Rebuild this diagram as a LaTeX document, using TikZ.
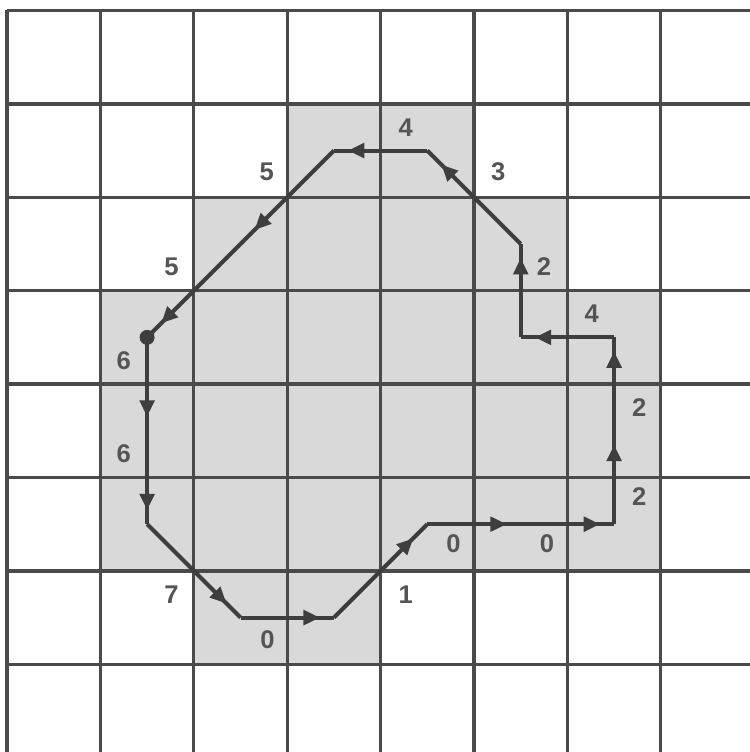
\documentclass[tikz,border=0pt]{standalone}
\usepackage{fontspec}
\setmainfont{Liberation Sans}
\usetikzlibrary{arrows.meta,decorations.markings}
\definecolor{gridgray}{HTML}{4A4A4A}
\definecolor{pathgray}{HTML}{3E3E3E}
\definecolor{codegray}{HTML}{555555}
\definecolor{shadegray}{HTML}{D9D9D9}
\begin{document}
\begin{tikzpicture}[x=1cm,y=1cm,
  gridline/.style={gridgray, line width=1pt},
  chainseg/.style={pathgray, line width=1.25pt, postaction={decorate},
    decoration={markings, mark=at position 0.85 with {\arrow{Triangle[length=5pt,width=4.4pt]}}}},
  code/.style={codegray, font=\fontsize{7.8}{9}\selectfont\bfseries, inner sep=0pt}]
\useasboundingbox (-0.075,0.061) rectangle (7.944,8.112);
\fill[shadegray] (3,7) -- (5,7) -- (5,6) -- (6,6) -- (6,5) -- (7,5) -- (7,2) -- (4,2) -- (4,1) -- (2,1) -- (2,2) -- (1,2) -- (1,5) -- (2,5) -- (2,6) -- (3,6) -- cycle;
\draw[gridline] (0,0) grid (8,8);
\coordinate (p0) at (1.5,4.5);
\coordinate (p1) at (1.5,3.5);
\coordinate (p2) at (1.5,2.5);
\coordinate (p3) at (2.5,1.5);
\coordinate (p4) at (3.5,1.5);
\coordinate (p5) at (4.5,2.5);
\coordinate (p6) at (5.5,2.5);
\coordinate (p7) at (6.5,2.5);
\coordinate (p8) at (6.5,3.5);
\coordinate (p9) at (6.5,4.5);
\coordinate (p10) at (5.5,4.5);
\coordinate (p11) at (5.5,5.5);
\coordinate (p12) at (4.5,6.5);
\coordinate (p13) at (3.5,6.5);
\coordinate (p14) at (2.5,5.5);
\draw[chainseg] (p0) -- (p1);
\draw[chainseg] (p1) -- (p2);
\draw[chainseg] (p2) -- (p3);
\draw[chainseg] (p3) -- (p4);
\draw[chainseg] (p4) -- (p5);
\draw[chainseg] (p5) -- (p6);
\draw[chainseg] (p6) -- (p7);
\draw[chainseg] (p7) -- (p8);
\draw[chainseg] (p8) -- (p9);
\draw[chainseg] (p9) -- (p10);
\draw[chainseg] (p10) -- (p11);
\draw[chainseg] (p11) -- (p12);
\draw[chainseg] (p12) -- (p13);
\draw[chainseg] (p13) -- (p14);
\draw[chainseg] (p14) -- (p0);
\fill[pathgray] (p0) circle (0.08);
\node[code] (c1) at (1.25,4.25) {6};
\node[code] (c2) at (1.25,3.25) {6};
\node[code] (c3) at (1.76,1.75) {7};
\node[code] (c4) at (2.79,1.26) {0};
\node[code] (c5) at (4.27,1.75) {1};
\node[code] (c6) at (4.78,2.29) {0};
\node[code] (c7) at (5.78,2.29) {0};
\node[code] (c8) at (6.77,2.80) {2};
\node[code] (c9) at (6.77,3.75) {2};
\node[code] (c10) at (6.26,4.75) {4};
\node[code] (c11) at (5.75,5.26) {2};
\node[code] (c12) at (5.26,6.27) {3};
\node[code] (c13) at (4.27,6.75) {4};
\node[code] (c14) at (2.78,6.27) {5};
\node[code] (c15) at (1.76,5.26) {5};
\end{tikzpicture}
\end{document}
